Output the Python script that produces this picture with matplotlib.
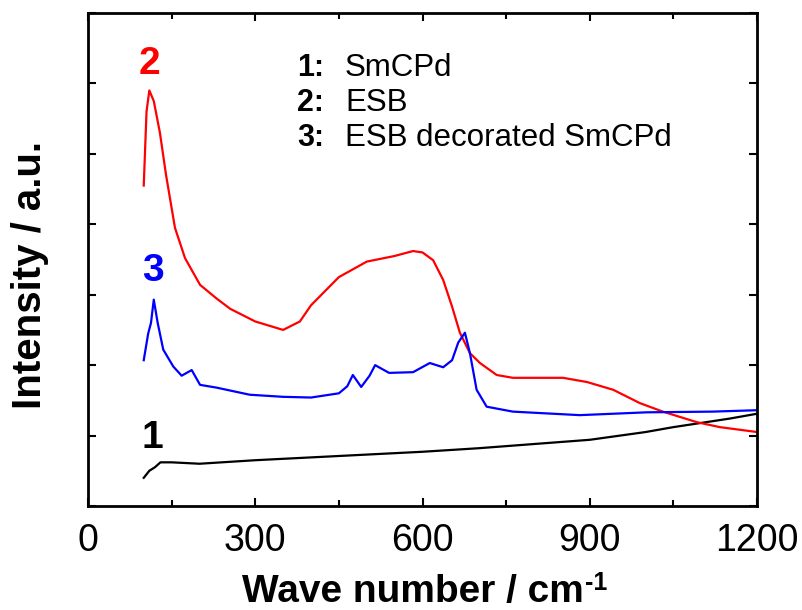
import numpy as np
import matplotlib
matplotlib.use("Agg")
import matplotlib.pyplot as plt

plt.rcParams['font.family'] = ['Liberation Sans', 'DejaVu Sans']

# curve 1: SmCPd (black)
x1 = [100, 110, 120, 130, 150, 200, 300, 400, 500, 600, 700, 800, 900, 1000, 1050, 1100, 1150, 1200]
y1 = [0.40, 0.50, 0.55, 0.62, 0.62, 0.60, 0.65, 0.69, 0.73, 0.77, 0.82, 0.88, 0.94, 1.05, 1.12, 1.18, 1.24, 1.31]

# curve 2: ESB (red)
x2 = [100, 105, 110, 118, 129, 140, 156, 174, 201, 230, 255, 300, 350, 380, 400, 450, 500, 550,
      583, 600, 619, 637, 653, 667, 685, 703, 733, 762, 852, 895, 942, 990, 1031, 1092, 1133, 1200]
y2 = [4.55, 5.60, 5.90, 5.75, 5.30, 4.70, 3.95, 3.52, 3.14, 2.95, 2.80, 2.62, 2.50, 2.62, 2.85, 3.25,
      3.47, 3.55, 3.62, 3.60, 3.49, 3.21, 2.83, 2.46, 2.17, 2.03, 1.86, 1.82, 1.82, 1.76, 1.65, 1.46,
      1.34, 1.19, 1.12, 1.05]

# curve 3: ESB decorated SmCPd (blue)
x3 = [100, 108, 113, 118, 125, 135, 153, 168, 186, 201, 231, 290, 350, 400, 450, 465, 475, 490,
      505, 515, 540, 583, 613, 637, 653, 664, 676, 685, 697, 715, 762, 882, 1002, 1120, 1200]
y3 = [2.07, 2.45, 2.60, 2.93, 2.60, 2.22, 1.98, 1.85, 1.93, 1.72, 1.68, 1.58, 1.55, 1.54, 1.60, 1.70,
      1.86, 1.69, 1.85, 2.00, 1.89, 1.90, 2.03, 1.97, 2.07, 2.32, 2.46, 2.17, 1.65, 1.41, 1.34, 1.29,
      1.33, 1.34, 1.36]

legend_nums = ["1:", "2:", "3:"]
legend_names = ["SmCPd", "ESB", "ESB decorated SmCPd"]

fig = plt.figure(figsize=(8.02, 6.10), dpi=100)
ax = fig.add_axes([0.1097, 0.1705, 0.8343, 0.8082])

ax.plot(x1, y1, color="black", lw=1.6)
ax.plot(x2, y2, color="red", lw=1.6)
ax.plot(x3, y3, color="blue", lw=1.6)

ax.text(111, 6.27, "2", color="red", fontsize=28, fontweight="bold", ha="center", va="center")
ax.text(117, 3.33, "3", color="blue", fontsize=28, fontweight="bold", ha="center", va="center")
ax.text(115, 0.96, "1", color="black", fontsize=28, fontweight="bold", ha="center", va="center")

for i, (n, s) in enumerate(zip(legend_nums, legend_names)):
    yy = 6.22 - 0.495 * i
    ax.text(375, yy, n, fontsize=22, fontweight="bold", va="center")
    ax.text(461, yy, s, fontsize=22.5, va="center")

ax.set_xlim(0, 1200)
ax.set_ylim(0, 7)
ax.set_xticks([0, 300, 600, 900, 1200])
ax.set_xticks([150, 450, 750, 1050], minor=True)
ax.set_yticks(range(0, 8))
ax.set_yticklabels([])
ax.tick_params(direction="in", top=True, right=True, width=1.5, length=6, labelsize=27, pad=12)
ax.tick_params(which="minor", direction="in", top=True, width=1.5, length=4)
for sp in ax.spines.values():
    sp.set_linewidth(2)

ax.set_xlabel("Wave number / cm", fontsize=28, fontweight="bold")
ax.set_ylabel("Intensity / a.u.", fontsize=29, fontweight="bold")
ax.xaxis.set_label_coords(0.485, -0.137)
ax.yaxis.set_label_coords(-0.058, 0.469)

# superscript "-1" after "cm"
fig.canvas.draw()
bb = ax.xaxis.label.get_window_extent()
fig.text(bb.x1 / fig.bbox.width + 0.002, bb.y1 / fig.bbox.height + 0.004, "-1",
         fontsize=18, fontweight="bold", ha="left", va="top")

fig.savefig("out.png", dpi=100)
